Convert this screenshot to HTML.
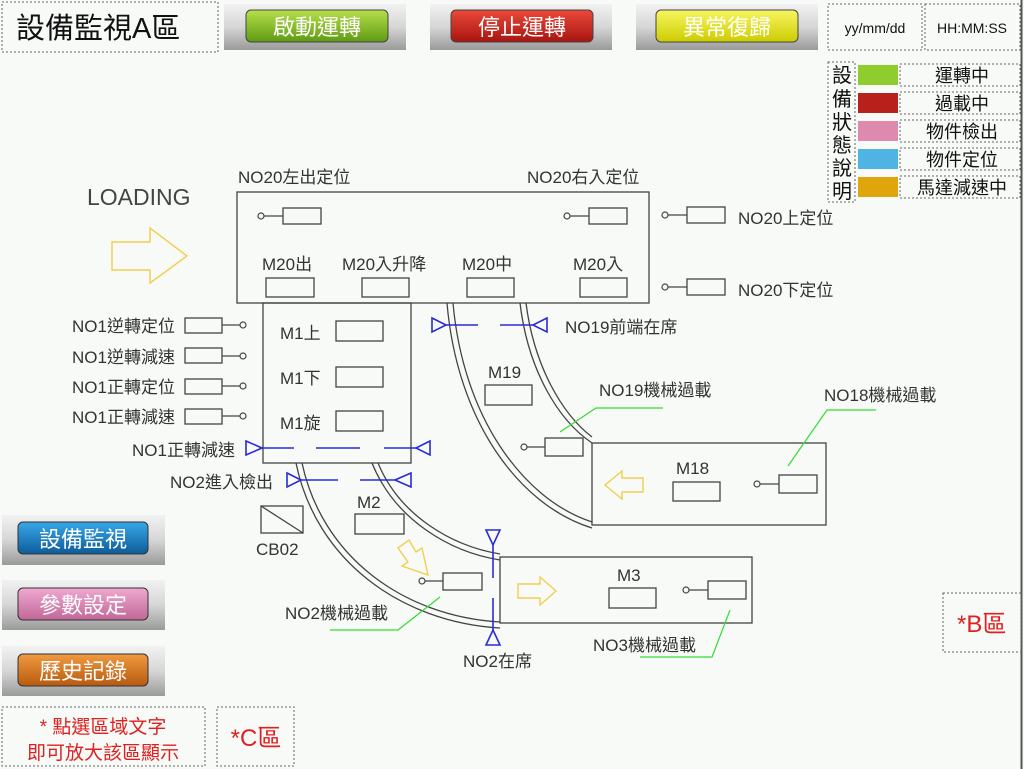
<!DOCTYPE html>
<html><head><meta charset="utf-8"><style>
html,body{margin:0;padding:0;background:#f7faf7;}
svg{display:block}
text{font-family:"Liberation Sans","Noto Sans CJK TC",sans-serif;}
</style></head><body>
<svg width="1024" height="769" viewBox="0 0 1024 769" xmlns="http://www.w3.org/2000/svg">
<defs>
<linearGradient id="fr" x1="0" y1="0" x2="0" y2="1"><stop offset="0" stop-color="#f2f2f2"/><stop offset="0.5" stop-color="#d6d6d6"/><stop offset="1" stop-color="#9a9a9a"/></linearGradient>
<linearGradient id="g1" x1="0" y1="0" x2="0" y2="1"><stop offset="0" stop-color="#b6e04a"/><stop offset="1" stop-color="#5f9a14"/></linearGradient>
<linearGradient id="g2" x1="0" y1="0" x2="0" y2="1"><stop offset="0" stop-color="#ea4a3a"/><stop offset="1" stop-color="#a81410"/></linearGradient>
<linearGradient id="g3" x1="0" y1="0" x2="0" y2="1"><stop offset="0" stop-color="#f8f660"/><stop offset="1" stop-color="#cccc00"/></linearGradient>
<linearGradient id="g4" x1="0" y1="0" x2="0" y2="1"><stop offset="0" stop-color="#38a8e8"/><stop offset="1" stop-color="#0e5c9a"/></linearGradient>
<linearGradient id="g5" x1="0" y1="0" x2="0" y2="1"><stop offset="0" stop-color="#f0a8d0"/><stop offset="1" stop-color="#c06898"/></linearGradient>
<linearGradient id="g6" x1="0" y1="0" x2="0" y2="1"><stop offset="0" stop-color="#f09a40"/><stop offset="1" stop-color="#b85a10"/></linearGradient>
</defs>
<line x1="1021.5" y1="0" x2="1021.5" y2="769" stroke="#555" stroke-width="2"/>
<!-- title -->
<rect x="2" y="2" width="216" height="50" fill="none" stroke="#666" stroke-dasharray="2,2"/>
<text x="16" y="38" font-size="29" fill="#111">設備監視A區</text>
<!-- top buttons -->
<g>
<rect x="224" y="4" width="182" height="46" fill="url(#fr)"/>
<rect x="246" y="10" width="142" height="32" rx="5" fill="url(#g1)" stroke="#444"/>
<text x="317" y="35" font-size="22" fill="#fff" text-anchor="middle">啟動運轉</text>
<rect x="430" y="4" width="182" height="46" fill="url(#fr)"/>
<rect x="451" y="10" width="142" height="32" rx="5" fill="url(#g2)" stroke="#444"/>
<text x="522" y="35" font-size="22" fill="#fff" text-anchor="middle">停止運轉</text>
<rect x="636" y="4" width="182" height="46" fill="url(#fr)"/>
<rect x="656" y="10" width="142" height="32" rx="5" fill="url(#g3)" stroke="#444"/>
<text x="727" y="35" font-size="22" fill="#fff" text-anchor="middle">異常復歸</text>
</g>
<rect x="828" y="4" width="94" height="46" fill="none" stroke="#666" stroke-dasharray="2,2"/>
<text x="875" y="33" font-size="14" fill="#111" text-anchor="middle">yy/mm/dd</text>
<rect x="925" y="4" width="95" height="46" fill="none" stroke="#666" stroke-dasharray="2,2"/>
<text x="972" y="33" font-size="14" fill="#111" text-anchor="middle">HH:MM:SS</text>
<!-- legend -->
<rect x="828" y="62" width="27" height="140" fill="none" stroke="#666" stroke-dasharray="2,2"/>
<g font-size="20" fill="#111" text-anchor="middle">
<text x="842" y="82">設</text><text x="842" y="106">備</text><text x="842" y="129">狀</text><text x="842" y="152">態</text><text x="842" y="175">說</text><text x="842" y="198">明</text>
</g>
<rect x="858" y="65" width="40" height="20" fill="#8fcc2e"/>
<rect x="858" y="93" width="40" height="20" fill="#b8201c"/>
<rect x="858" y="121" width="40" height="20" fill="#de8aae"/>
<rect x="858" y="149" width="40" height="20" fill="#4fb4e4"/>
<rect x="858" y="177" width="40" height="20" fill="#e0a40c"/>
<g fill="none" stroke="#666" stroke-dasharray="2,2">
<rect x="900" y="64" width="120" height="22"/><rect x="900" y="92" width="120" height="22"/><rect x="900" y="120" width="120" height="22"/><rect x="900" y="148" width="120" height="22"/><rect x="900" y="176" width="120" height="22"/>
</g>
<g font-size="18" fill="#111" text-anchor="middle">
<text x="962" y="82">運轉中</text><text x="962" y="110">過載中</text><text x="962" y="138">物件檢出</text><text x="962" y="166">物件定位</text><text x="962" y="194">馬達減速中</text>
</g>
<!-- loading -->
<text x="87" y="205" font-size="23" fill="#444">LOADING</text>
<path d="M112,242 L150,242 L150,228 L187,256 L150,283 L150,270 L112,270 Z" fill="none" stroke="#f0d050" stroke-width="1.5"/>
<!-- main boxes -->
<g fill="none" stroke="#444" stroke-width="1.3">
<rect x="237" y="192" width="412" height="111"/>
<rect x="263" y="303" width="148" height="160"/>
<rect x="592" y="443" width="234" height="82"/>
<rect x="500" y="557" width="252" height="66"/>
<!-- curves -->
<path d="M296,463 C316,560 400,622 500,628"/>
<path d="M302,463 C322,556 402,616 500,622"/>
<path d="M372,463 C395,520 450,552 500,560"/>
<path d="M378,463 C400,516 452,546 500,554"/>
<path d="M447,303 C457,420 518,505 592,528"/>
<path d="M453,303 C463,416 522,499 592,522"/>
<path d="M520,303 C528,370 558,420 592,443"/>
<path d="M526,303 C534,366 562,414 592,437"/>
<!-- in-box sensors -->
<rect x="283" y="208" width="38" height="16"/><rect x="589" y="208" width="38" height="16"/>
<rect x="687" y="207" width="38" height="16"/><rect x="687" y="279" width="38" height="16"/>
<rect x="266" y="278" width="48" height="19"/><rect x="362" y="278" width="47" height="19"/><rect x="467" y="278" width="47" height="19"/><rect x="580" y="278" width="47" height="19"/>
<rect x="336" y="321" width="47" height="20"/><rect x="336" y="367" width="47" height="20"/><rect x="336" y="411" width="47" height="20"/>
<rect x="185" y="318" width="37" height="15"/><rect x="185" y="348" width="37" height="15"/><rect x="185" y="379" width="37" height="15"/><rect x="185" y="409" width="37" height="15"/>
<rect x="485" y="385" width="47" height="20"/>
<rect x="545" y="438" width="38" height="18"/>
<rect x="673" y="482" width="47" height="19"/>
<rect x="779" y="475" width="38" height="18"/>
<rect x="609" y="588" width="47" height="20"/>
<rect x="708" y="581" width="38" height="18"/>
<rect x="355" y="514" width="49" height="20"/>
<rect x="443" y="573" width="39" height="17"/>
<rect x="261" y="506" width="42" height="27"/><line x1="261" y1="506" x2="303" y2="533"/>
</g>
<g fill="#f7faf7" stroke="#444" stroke-width="1.2">
<line x1="264" y1="216" x2="283" y2="216"/><circle cx="261" cy="216" r="3"/>
<line x1="570" y1="216" x2="589" y2="216"/><circle cx="567" cy="216" r="3"/>
<line x1="668" y1="215" x2="687" y2="215"/><circle cx="665" cy="215" r="3"/>
<line x1="668" y1="287" x2="687" y2="287"/><circle cx="665" cy="287" r="3"/>
<line x1="222" y1="325" x2="240" y2="325"/><circle cx="243" cy="325" r="3"/>
<line x1="222" y1="356" x2="240" y2="356"/><circle cx="243" cy="356" r="3"/>
<line x1="222" y1="386" x2="240" y2="386"/><circle cx="243" cy="386" r="3"/>
<line x1="222" y1="416" x2="240" y2="416"/><circle cx="243" cy="416" r="3"/>
<line x1="527" y1="447" x2="545" y2="447"/><circle cx="524" cy="447" r="3"/>
<line x1="760" y1="484" x2="779" y2="484"/><circle cx="757" cy="484" r="3"/>
<line x1="689" y1="590" x2="708" y2="590"/><circle cx="686" cy="590" r="3"/>
<line x1="425" y1="581" x2="443" y2="581"/><circle cx="422" cy="581" r="3"/>
</g>
<!-- blue sensors -->
<g stroke="#2a2ad8" stroke-width="1.6" fill="none">
<line x1="262" y1="448" x2="294" y2="448"/><line x1="316" y1="448" x2="360" y2="448"/><line x1="384" y1="448" x2="416" y2="448"/>
<path d="M246,441 L262,448 L246,455 Z"/><path d="M430,441 L416,448 L430,455 Z"/>
<line x1="301" y1="480" x2="338" y2="480"/><line x1="360" y1="480" x2="395" y2="480"/>
<path d="M287,473 L301,480 L287,487 Z"/><path d="M411,473 L395,480 L411,487 Z"/>
<line x1="446" y1="325" x2="478" y2="325"/><line x1="500" y1="325" x2="533" y2="325"/>
<path d="M432,318 L446,325 L432,332 Z"/><path d="M547,318 L533,325 L547,332 Z"/>
<line x1="493" y1="545" x2="493" y2="578"/><line x1="493" y1="598" x2="493" y2="630"/>
<path d="M486,530 L493,545 L500,530 Z"/><path d="M486,645 L493,630 L500,645 Z"/>
</g>
<!-- green leaders -->
<g stroke="#33dd33" stroke-width="1.2" fill="none">
<path d="M663,408 L596,408 L560,432"/>
<path d="M876,410 L827,410 L788,466"/>
<path d="M640,657 L712,657 L730,610"/>
<path d="M330,630 L398,630 L440,597"/>
</g>
<!-- yellow arrows -->
<g fill="none" stroke="#f0d050" stroke-width="1.4">
<path d="M643,478 L622,478 L622,471 L605,485 L622,499 L622,492 L643,492 Z"/>
<path d="M518,584 L540,584 L540,577 L556,591 L540,605 L540,598 L518,598 Z"/>
<path d="M398,548 L409,540 L416,552 L422,548 L428,575 L402,566 L408,562 Z"/>
</g>
<!-- labels -->
<g font-size="17" fill="#333">
<text x="238" y="183">NO20左出定位</text>
<text x="527" y="183">NO20右入定位</text>
<text x="738" y="224">NO20上定位</text>
<text x="738" y="296">NO20下定位</text>
<text x="262" y="270">M20出</text>
<text x="342" y="270">M20入升降</text>
<text x="462" y="270">M20中</text>
<text x="573" y="270">M20入</text>
<text x="280" y="339">M1上</text>
<text x="280" y="384">M1下</text>
<text x="280" y="429">M1旋</text>
<text x="72" y="332">NO1逆轉定位</text>
<text x="72" y="363">NO1逆轉減速</text>
<text x="72" y="393">NO1正轉定位</text>
<text x="72" y="423">NO1正轉減速</text>
<text x="132" y="456">NO1正轉減速</text>
<text x="170" y="488">NO2進入檢出</text>
<text x="565" y="333">NO19前端在席</text>
<text x="488" y="378">M19</text>
<text x="599" y="396">NO19機械過載</text>
<text x="824" y="401">NO18機械過載</text>
<text x="676" y="474">M18</text>
<text x="357" y="508">M2</text>
<text x="256" y="555">CB02</text>
<text x="617" y="581">M3</text>
<text x="285" y="619">NO2機械過載</text>
<text x="593" y="651">NO3機械過載</text>
<text x="463" y="667">NO2在席</text>
</g>
<!-- left buttons -->
<rect x="2" y="515" width="163" height="50" fill="url(#fr)"/>
<rect x="18" y="522" width="130" height="32" rx="5" fill="url(#g4)" stroke="#333"/>
<text x="83" y="547" font-size="22" fill="#fff" text-anchor="middle">設備監視</text>
<rect x="2" y="580" width="163" height="50" fill="url(#fr)"/>
<rect x="18" y="588" width="130" height="32" rx="5" fill="url(#g5)" stroke="#333"/>
<text x="83" y="613" font-size="22" fill="#fff" text-anchor="middle">參數設定</text>
<rect x="2" y="646" width="163" height="50" fill="url(#fr)"/>
<rect x="18" y="654" width="130" height="32" rx="5" fill="url(#g6)" stroke="#333"/>
<text x="83" y="679" font-size="22" fill="#fff" text-anchor="middle">歷史記錄</text>
<!-- notes -->
<rect x="2" y="707" width="203" height="59" fill="none" stroke="#666" stroke-dasharray="2,2"/>
<text x="103" y="733" font-size="19" fill="#e02020" text-anchor="middle">* 點選區域文字</text>
<text x="103" y="759" font-size="19" fill="#e02020" text-anchor="middle">即可放大該區顯示</text>
<rect x="217" y="707" width="77" height="59" fill="none" stroke="#666" stroke-dasharray="2,2"/>
<text x="256" y="746" font-size="24" fill="#e02020" text-anchor="middle">*C區</text>
<rect x="943" y="593" width="78" height="59" fill="none" stroke="#666" stroke-dasharray="2,2"/>
<text x="957" y="632" font-size="24" fill="#e02020">*B區</text>
</svg>
</body></html>
